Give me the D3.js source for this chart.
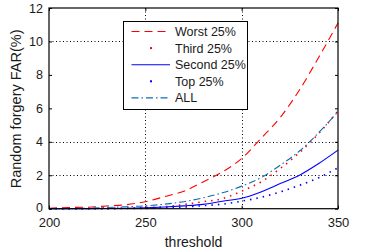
<!DOCTYPE html>
<html><head><meta charset="utf-8">
<script src="https://cdn.jsdelivr.net/npm/d3@7"></script>
<style>body{margin:0;background:#fff}svg{display:block}text{font-family:Arial,"Liberation Sans",sans-serif;fill:#1a1a1a}</style>
</head><body><svg id="c" width="372" height="251"></svg>
<script>
const thresholds = [200,210,220,230,240,250,260,270,280,290,300,310,320,330,340,350];
const worst  = [0.03,0.07,0.09,0.16,0.24,0.42,0.72,1.05,1.6,2.2,3.0,4.2,5.45,7.1,9.05,11.1];
const third  = [0.0,0.005,0.01,0.02,0.03,0.06,0.12,0.25,0.42,0.6,1.05,1.6,2.4,3.35,4.5,5.85];
const second = [0.0,0.0,0.005,0.01,0.02,0.05,0.1,0.17,0.26,0.45,0.62,1.0,1.5,2.0,2.7,3.5];
const top25  = [0.0,0.0,0.0,0.005,0.01,0.02,0.05,0.1,0.18,0.27,0.45,0.68,1.0,1.4,1.85,2.45];
const all    = [0.0,0.01,0.03,0.07,0.12,0.17,0.27,0.42,0.65,0.95,1.35,1.85,2.6,3.45,4.55,5.8];
const seriesNames = ["Worst 25%","Third 25%","Second 25%","Top 25%","ALL"];
const seriesValues = [worst, third, second, top25, all];
const seriesColors = ["#ff0000","#ff0000","#0000ff","#0000ff","#0a6eb4"];
const seriesDash = ["8,5","1.5,5","none","1.5,5","7,3,1.5,3"];
const xTicks = [200,250,300,350];
const yTicks = [0,2,4,6,8,10,12];
const xGrid = [250,300];
const yGrid = [2,4,10];

const svg = d3.select("#c");
const L=49, R=338, T=8, B=208.7;
const x = d3.scaleLinear().domain([200,350]).range([L,R]);
const y = d3.scaleLinear().domain([0,12]).range([B,T]);

// grid
const g = svg.append("g");
g.selectAll(".gx").data(xGrid).join("line")
  .attr("x1",d=>Math.round(x(d))+0.5).attr("x2",d=>Math.round(x(d))+0.5)
  .attr("y1",T).attr("y2",B).attr("stroke","#000").attr("stroke-dasharray","1,2.5");
g.selectAll(".gy").data(yGrid).join("line")
  .attr("y1",d=>Math.round(y(d))+0.5).attr("y2",d=>Math.round(y(d))+0.5)
  .attr("x1",L).attr("x2",R).attr("stroke","#000").attr("stroke-dasharray","1,2.5");

// lines
const line = d3.line().x((d,i)=>x(thresholds[i])).y(d=>y(d)).curve(d3.curveMonotoneX);
seriesValues.forEach((vals,k)=>{
  svg.append("path").attr("d",line(vals)).attr("fill","none")
    .attr("stroke",seriesColors[k]).attr("stroke-width",k===1||k===3?1.6:1.1)
    .attr("stroke-dasharray",seriesDash[k]);
});

// axes
const ax = svg.append("g");
const xAxB = d3.axisBottom(x).tickValues(xTicks).tickSize(-3).tickPadding(9);
const yAxL = d3.axisLeft(y).tickValues(yTicks).tickSize(-3).tickPadding(6);
ax.append("g").attr("class","xb").attr("transform",`translate(0,${B})`).call(xAxB);
ax.append("g").attr("class","yl").attr("transform",`translate(${L},0)`).call(yAxL);
ax.append("g").attr("transform",`translate(0,${T})`).call(d3.axisTop(x).tickValues(xTicks).tickSize(-3).tickFormat(""));
ax.append("g").attr("transform",`translate(${R},0)`).call(d3.axisRight(y).tickValues(yTicks).tickSize(-3).tickFormat(""));
ax.selectAll(".domain").remove();
ax.selectAll(".tick line").attr("stroke","#000");
ax.selectAll(".tick text").attr("fill","#1a1a1a").attr("font-family","Arial, 'Liberation Sans', sans-serif");
ax.select(".xb").selectAll(".tick text").attr("font-size",13);
ax.select(".yl").selectAll(".tick text").attr("font-size",12.5)
  .attr("y",d=>d===0?-1.5:0);
svg.append("rect").attr("x",L).attr("y",T).attr("width",R-L).attr("height",B-T)
  .attr("fill","none").attr("stroke","#000").attr("stroke-width",1.2);

// labels
svg.append("text").attr("x",(L+R)/2).attr("y",247).attr("text-anchor","middle")
  .attr("font-size",14).text("threshold");
svg.append("text").attr("transform",`translate(21,${(T+B)/2+0.5}) rotate(-90)`)
  .attr("text-anchor","middle").attr("font-size",14.5).text("Random forgery FAR(%)");

// legend
const lg = svg.append("g");
lg.append("rect").attr("x",123.5).attr("y",21.5).attr("width",124).attr("height",88)
  .attr("fill","#fff").attr("stroke","#000").attr("stroke-width",1);
seriesNames.forEach((n,k)=>{
  const yy = 31.5 + k*16.6;
  if (k===1 || k===3) {
    lg.append("rect").attr("x",150).attr("y",yy-1).attr("width",2).attr("height",2).attr("fill",seriesColors[k]);
  } else {
    lg.append("line").attr("x1",131.5).attr("x2",170).attr("y1",yy).attr("y2",yy)
      .attr("stroke",seriesColors[k]).attr("stroke-width",1.1).attr("stroke-dasharray",seriesDash[k]);
  }
  lg.append("text").attr("x",175).attr("y",yy).attr("dy","0.36em").attr("font-size",12.5).text(n);
});
</script></body></html>
